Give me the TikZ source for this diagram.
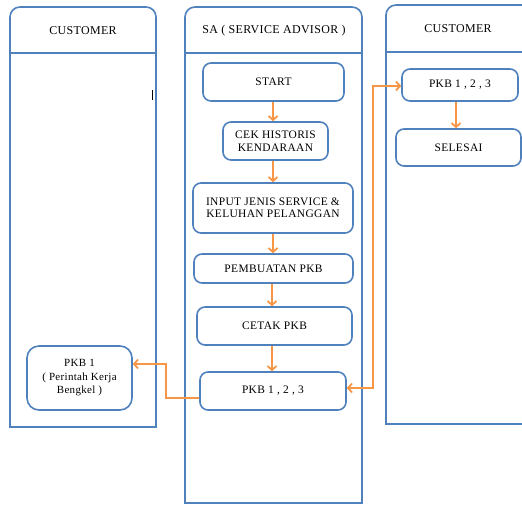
\documentclass[tikz,border=0pt]{standalone}
\usepackage{fontspec}
\setmainfont[LetterSpace=3]{Liberation Serif}
\usetikzlibrary{arrows.meta}
\definecolor{laneblue}{HTML}{4F81BD}
\definecolor{flowor}{HTML}{F79646}
\tikzset{
  lane/.style={draw=laneblue, line width=1.6bp},
  box/.style={draw=laneblue, line width=1.6bp, rounded corners=8bp, fill=white,
    align=center, inner sep=1bp, font=\fontsize{11.5}{12.5}\selectfont},
  head/.style={font=\fontsize{12}{13}\selectfont},
  flow/.style={draw=flowor, line width=1.8bp, -{Straight Barb[length=4bp,width=9bp]}},
}
\begin{document}
\begin{tikzpicture}[x=1bp, y=-1bp]
\useasboundingbox (0,0) rectangle (522,505);
\clip (0,0) rectangle (522,505);

% swimlanes (rounded top corners, square bottom)
\draw[lane] (10,427) -- (10,17) arc[start angle=180,end angle=270,radius=10]
  -- (146,7) arc[start angle=270,end angle=360,radius=10] -- (156,427) -- cycle;
\draw[lane] (10,53) -- (156,53);
\draw[lane] (185,503) -- (185,17) arc[start angle=180,end angle=270,radius=10]
  -- (352,7) arc[start angle=270,end angle=360,radius=10] -- (362,503) -- cycle;
\draw[lane] (185,53) -- (362,53);
\draw[lane] (386,424) -- (386,15) arc[start angle=180,end angle=270,radius=10]
  -- (530,5) -- (530,424) -- cycle;
\draw[lane] (386,52) -- (530,52);

% lane titles
\node[head] (hcust1) at (83,31) {CUSTOMER};
\node[head] (hsa) at (274,31) {SA ( SERVICE ADVISOR )};
\node[head] (hcust2) at (458,29) {CUSTOMER};

% stray text cursor mark
\draw[line width=1.8bp] (152.5,90) -- (152.5,100);

% service advisor steps
\node[box, minimum width=141bp, minimum height=38bp] (start) at (273.5,82) {START};
\node[box, minimum width=105bp, minimum height=38bp] (cek) at (275.5,141) {CEK HISTORIS\\KENDARAAN};
\node[box, minimum width=160bp, minimum height=50bp] (input) at (273,208) {INPUT JENIS SERVICE \&\\KELUHAN PELANGGAN};
\node[box, minimum width=159bp, minimum height=29bp] (pemb) at (273.5,268.5) {PEMBUATAN PKB};
\node[box, minimum width=155bp, minimum height=38bp] (cetak) at (274.5,326) {CETAK PKB};
\node[box, minimum width=146bp, minimum height=38bp] (pkbsa) at (273,391) {PKB 1 , 2 , 3};

% customer steps
\node[box, minimum width=105bp, minimum height=64bp, rounded corners=12bp,
  font=\fontsize{11}{13.5}\selectfont] (pkb1) at (79.5,378) {PKB 1\\( Perintah Kerja\\Bengkel )};
\node[box, minimum width=116bp, minimum height=32bp] (pkbr) at (460,85) {PKB 1 , 2 , 3};
\node[box, minimum width=125bp, minimum height=37bp] (selesai) at (458.5,147.5) {SELESAI};

% flow inside the lanes
\draw[flow] (start.south -| 273,0) -- (cek.north -| 273,0);
\draw[flow] (cek.south -| 273,0) -- (input.north -| 273,0);
\draw[flow] (input.south -| 273,0) -- (pemb.north -| 273,0);
\draw[flow] (pemb.south -| 272,0) -- (cetak.north -| 272,0);
\draw[flow] (cetak.south -| 272,0) -- (pkbsa.north -| 272,0);
\draw[flow] (pkbr.south -| 456,0) -- (selesai.north -| 456,0);

% hand-over between lanes
\coordinate (lb1) at (166,398);
\coordinate (lb2) at (166,364);
\draw[flow] (pkbsa.west |- lb1) -- (lb1) -- (lb2) -- (pkb1.east |- lb2);
\coordinate (rb1) at (373,388);
\coordinate (rb2) at (373,86);
\draw[flow, {Straight Barb[length=4bp,width=9bp]}-{Straight Barb[length=4bp,width=9bp]}]
  (pkbsa.east |- rb1) -- (rb1) -- (rb2) -- (pkbr.west |- rb2);
\end{tikzpicture}
\end{document}
